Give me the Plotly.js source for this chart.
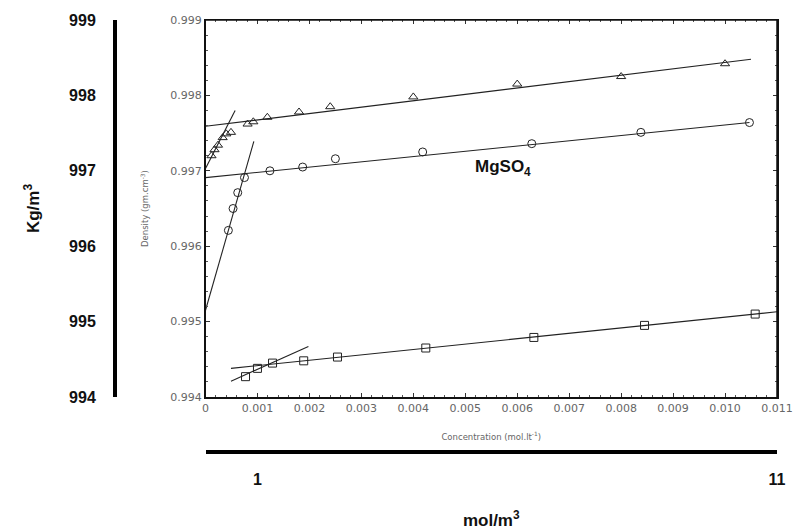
<!DOCTYPE html>
<html>
<head>
<meta charset="utf-8">
<script src="https://cdn.plot.ly/plotly-3.0.1.min.js"></script>
<style>html,body{margin:0;padding:0;background:#fff;}#chart{width:795px;height:531px;}</style>
</head>
<body>
<div id="chart"></div>
<script>
// Triangles (upper series)
const triX = [0.000115,0.000173,0.00024,0.00033,0.0004,0.00049,0.00081,0.00092,0.00119,0.0018,0.0024,0.004,0.006,0.008,0.01];
const triY = [0.9972,0.99728,0.99734,0.99744,0.99749,0.99751,0.99762,0.99765,0.99771,0.99778,0.99785,0.99798,0.99815,0.99825,0.99842];
const triFitX = [0,0.0105], triFitY = [0.99759,0.99848];
const triSteepX = [0,0.00057], triSteepY = [0.99703,0.9978];

// Circles (middle series)
const circX = [0.00044,0.00053,0.00062,0.00075,0.00124,0.00187,0.0025,0.00418,0.00628,0.00838,0.01047];
const circY = [0.99621,0.9965,0.99671,0.99691,0.997,0.99705,0.99716,0.99725,0.99736,0.99751,0.99764];
const circFitX = [0,0.01047], circFitY = [0.99691,0.99764];
const circSteepX = [0,0.00093], circSteepY = [0.99515,0.99739];

// Squares (lower series)
const sqX = [0.00077,0.001,0.00129,0.00189,0.00254,0.00424,0.00632,0.00845,0.01058];
const sqY = [0.99427,0.99438,0.99445,0.99448,0.99453,0.99465,0.99479,0.99495,0.9951];
const sqFitX = [0.00049,0.011], sqFitY = [0.99438,0.99513];
const sqSteepX = [0.00049,0.00198], sqSteepY = [0.99421,0.99467];

// Axis ticks
const xTickVals = [0,0.001,0.002,0.003,0.004,0.005,0.006,0.007,0.008,0.009,0.010,0.011];
const xTickText = ["0","0.001","0.002","0.003","0.004","0.005","0.006","0.007","0.008","0.009","0.010","0.011"];
const yTickVals = [0.994,0.995,0.996,0.997,0.998,0.999];
const yTickText = ["0.994","0.995","0.996","0.997","0.998","0.999"];
const y2TickVals = [994,995,996,997,998,999];
const x2TickVals = [1,11];

const F = "Arial, 'Liberation Sans', sans-serif";
const FS = "'DejaVu Sans', Arial, sans-serif";
const mk = (sym) => ({symbol: sym, size: 8, color: '#222', line: {width: 1, color: '#222'}});
const ln = {color: '#222', width: 1.1};

const traces = [
  {x: triFitX, y: triFitY, mode: 'lines', line: ln},
  {x: triSteepX, y: triSteepY, mode: 'lines', line: ln},
  {x: triX, y: triY, mode: 'markers', marker: mk('triangle-up-open')},
  {x: circFitX, y: circFitY, mode: 'lines', line: ln},
  {x: circSteepX, y: circSteepY, mode: 'lines', line: ln},
  {x: circX, y: circY, mode: 'markers', marker: mk('circle-open')},
  {x: sqFitX, y: sqFitY, mode: 'lines', line: ln},
  {x: sqSteepX, y: sqSteepY, mode: 'lines', line: ln},
  {x: sqX, y: sqY, mode: 'markers', marker: mk('square-open')},
  {x: [null], y: [null], xaxis: 'x2', yaxis: 'y2', mode: 'markers', hoverinfo: 'skip'}
].map(t => Object.assign({showlegend: false, cliponaxis: false}, t));

const XD0 = 0.2645, YD0 = 0.2622;

const layout = {
  width: 795, height: 531,
  margin: {l: 0, r: 18, t: 20, b: 0},
  paper_bgcolor: '#fff', plot_bgcolor: '#fff',
  showlegend: false,
  xaxis: {
    domain: [XD0, 1], range: [0, 0.011],
    tickvals: xTickVals, ticktext: xTickText,
    showline: true, linecolor: '#111', linewidth: 1.5, mirror: 'allticks',
    ticks: 'inside', ticklen: 4, tickcolor: '#333',
    minor: {dtick: 0.0002, ticks: 'inside', ticklen: 2, tickcolor: '#555'},
    showgrid: false, zeroline: false,
    tickfont: {family: FS, size: 11, color: '#666'},
    title: {text: 'Concentration (mol.lt<sup>-1</sup>)', font: {family: FS, size: 8.5, color: '#666'}, standoff: 20}
  },
  yaxis: {
    domain: [YD0, 1], range: [0.994, 0.999],
    tickvals: yTickVals, ticktext: yTickText,
    showline: true, linecolor: '#111', linewidth: 1.5, mirror: 'allticks',
    ticks: 'inside', ticklen: 4, tickcolor: '#333',
    minor: {dtick: 0.0002, ticks: 'inside', ticklen: 2, tickcolor: '#555'},
    showgrid: false, zeroline: false,
    tickfont: {family: FS, size: 11, color: '#666'},
    title: {text: 'Density (gm.cm<sup>-3</sup>)', font: {family: FS, size: 8.5, color: '#666'}, standoff: 20}
  },
  yaxis2: {
    overlaying: 'y', anchor: 'free', position: 0.148, side: 'left',
    range: [994, 999], tickvals: y2TickVals,
    showline: true, linecolor: '#000', linewidth: 4,
    ticks: 'outside', ticklen: 14, tickcolor: 'rgba(0,0,0,0)',
    showgrid: false, zeroline: false,
    tickfont: {family: F, size: 16, color: '#111', weight: 'bold'},
    title: {text: 'Kg/m<sup>3</sup>', font: {family: F, size: 17, color: '#111', weight: 'bold'}, standoff: 24}
  },
  xaxis2: {
    overlaying: 'x', anchor: 'free', position: 0.1546, side: 'bottom',
    range: [0, 11], tickvals: x2TickVals,
    showline: true, linecolor: '#000', linewidth: 4,
    ticks: 'outside', ticklen: 12, tickcolor: 'rgba(0,0,0,0)',
    showgrid: false, zeroline: false,
    tickfont: {family: F, size: 16, color: '#111', weight: 'bold'},
    title: {text: 'mol/m<sup>3</sup>', font: {family: F, size: 17, color: '#111', weight: 'bold'}, standoff: 26}
  },
  shapes: [
    {type: 'line', xref: 'paper', yref: 'paper', x0: XD0, x1: 1, y0: 1, y1: 1, line: {color: '#111', width: 1.5}, layer: 'above'},
    {type: 'line', xref: 'paper', yref: 'paper', x0: 1, x1: 1, y0: YD0, y1: 1, line: {color: '#111', width: 1.5}, layer: 'above'}
  ],
  annotations: [{
    x: 0.00572, y: 0.99704, xref: 'x', yref: 'y',
    text: 'MgSO<sub>4</sub>', showarrow: false,
    font: {family: F, size: 17, color: '#111', weight: 'bold'}
  }]
};

Plotly.newPlot('chart', traces, layout, {displayModeBar: false, staticPlot: true});
</script>
</body>
</html>
